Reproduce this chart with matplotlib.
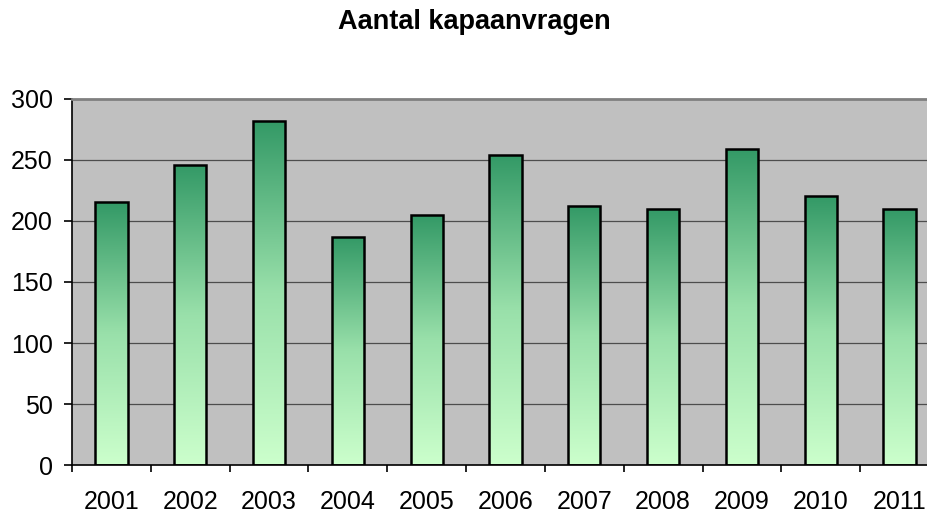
import numpy as np
import matplotlib
matplotlib.use("Agg")
import matplotlib.pyplot as plt
from matplotlib.colors import LinearSegmentedColormap

years = ["2001", "2002", "2003", "2004", "2005", "2006", "2007", "2008", "2009", "2010", "2011"]
counts = [215, 246, 282, 187, 205, 254, 212, 210, 259, 220, 210]
title = "Aantal kapaanvragen"
yticks = [0, 50, 100, 150, 200, 250, 300]

plt.rcParams['font.family'] = ['Liberation Sans', 'DejaVu Sans']

fig = plt.figure(figsize=(9.28, 5.15), dpi=100)
ax = fig.add_axes([72/928, (515-465.3)/515, (939-72)/928, (465.3-98.5)/515])
ax.set_facecolor('#C0C0C0')

cmap = LinearSegmentedColormap.from_list('g', ['#CCFFCC', '#99E0AA', '#339966'])
grad = np.linspace(0, 1, 256).reshape(-1, 1)

x = np.arange(len(years)) + 0.5
bars = ax.bar(x, counts, width=0.41, facecolor='none', edgecolor='black', linewidth=1.8, zorder=3)
for b in bars:
    x0, y0 = b.get_x(), b.get_y()
    w, h = b.get_width(), b.get_height()
    im = ax.imshow(grad, extent=[x0, x0 + w, y0, y0 + h], origin='lower', cmap=cmap,
                   aspect='auto', zorder=2, interpolation='bilinear')
    im.set_clip_path(b)

ax.set_xlim(0, len(years))
ax.set_ylim(0, 300)

for yv in yticks[1:-1]:
    ax.axhline(yv, color='#4d4d4d', linewidth=0.9, zorder=1)

ax.spines['top'].set_color('#808080')
ax.spines['top'].set_linewidth(2)
ax.spines['right'].set_visible(False)
ax.spines['left'].set_color('black')
ax.spines['left'].set_linewidth(1.2)
ax.spines['bottom'].set_color('black')
ax.spines['bottom'].set_linewidth(1.2)

ax.set_yticks(yticks)
ax.set_yticklabels([str(v) for v in yticks], fontsize=18)
ax.tick_params(axis='y', length=6, width=1.2, pad=8, colors='black')

ax.set_xticks(np.arange(len(years) + 1))
ax.set_xticklabels([])
ax.tick_params(axis='x', which='major', length=5, width=1.2, direction='out')
ax.set_xticks(x, minor=True)
ax.set_xticklabels(years, minor=True, fontsize=18)
ax.tick_params(axis='x', which='minor', length=0, pad=18)

fig.text(474/928, 1 - 22/515, title, ha='center', va='center', fontsize=19.5, fontweight='bold')

fig.savefig('out.png', dpi=100)
